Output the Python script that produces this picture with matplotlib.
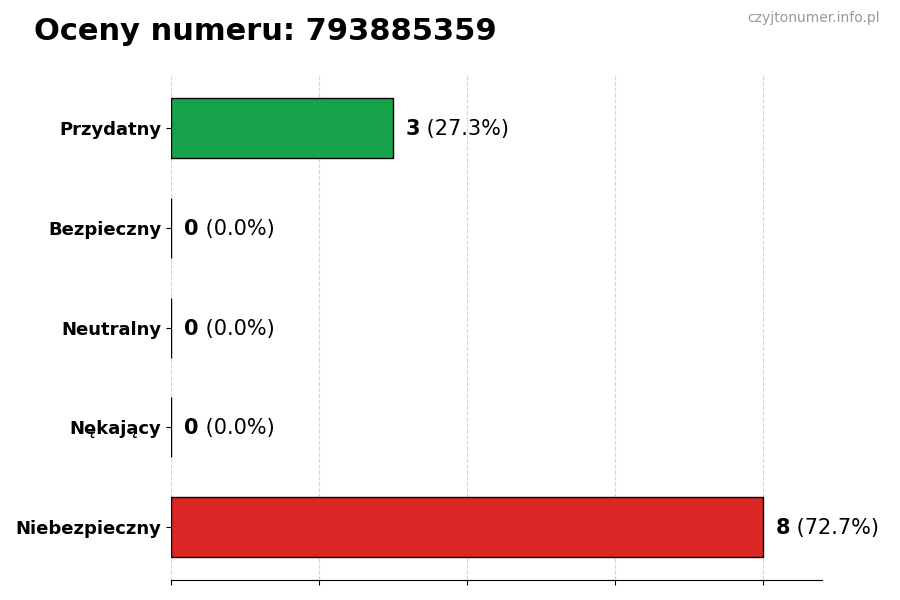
import matplotlib
matplotlib.use("Agg")
import matplotlib.pyplot as plt

categories = ["Przydatny", "Bezpieczny", "Neutralny", "Nękający", "Niebezpieczny"]
counts = [3, 0, 0, 0, 8]
colors = ["#16a34a", "#9ca3af", "#60a5fa", "#f59e0b", "#dc2626"]
title = "Oceny numeru: 793885359"
watermark = "czyjtonumer.info.pl"

plt.rcParams['font.family'] = ['DejaVu Sans']
fig = plt.figure(figsize=(9, 6), dpi=100)
ax = fig.add_axes([0.19, 0.033, 0.723, 0.842])

total = sum(counts)
y = list(range(len(categories)))
ax.barh(y, counts, height=0.6, color=colors, edgecolor="black", linewidth=1, zorder=2)
ax.set_yticks(y)
ax.set_yticklabels(categories, fontsize=13, fontweight="bold")
ax.invert_yaxis()
mx = max(counts)
ax.set_xlim(0, mx * 1.1)
ax.set_xticks([0, 2, 4, 6, 8])
ax.set_xticklabels([])
ax.grid(axis="x", linestyle="--", color="#cccccc", alpha=0.8, zorder=0)
ax.set_axisbelow(True)
for s in ["top", "right", "left"]:
    ax.spines[s].set_visible(False)

for i, c in enumerate(counts):
    pct = c / total * 100
    t = ax.text(c + mx * 0.022, i + 0.01, f"{c}", fontsize=15, fontweight="bold", va="center", ha="left")
    ax.annotate(f" ({pct:.1f}%)", xy=(1, 0), xycoords=t, va="bottom", ha="left", fontsize=15)

fig.text(0.038, 0.947, title, fontsize=22, fontweight="bold", ha="left", va="center")
fig.text(0.978, 0.97, watermark, fontsize=10, color="#999999", ha="right", va="center")

fig.savefig("out.png", dpi=100)
